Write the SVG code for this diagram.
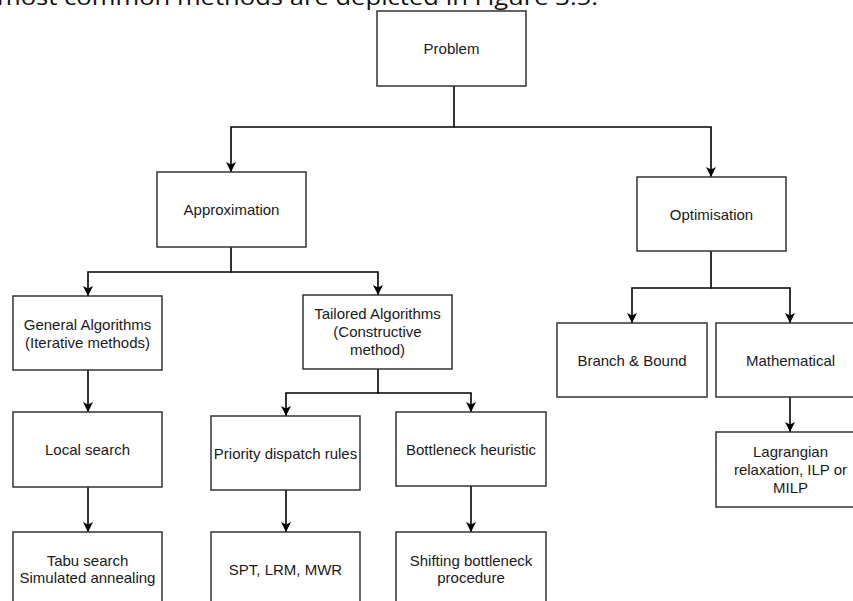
<svg xmlns="http://www.w3.org/2000/svg" width="853" height="601" viewBox="0 0 853 601">
  <defs>
    <marker id="arrow" viewBox="0 0 10 10" refX="10" refY="5" markerWidth="10" markerHeight="10" markerUnits="userSpaceOnUse" orient="auto">
      <path d="M0,0 L10,5 L0,10 L2.5,5 Z" fill="#000"/>
    </marker>
    <style>
      .box { fill: #fff; stroke: #333; stroke-width: 1.5; }
      .lbl { font-family: "Liberation Sans", Arial, sans-serif; font-size: 15px; fill: #1a1a1a; text-anchor: middle; }
      .edge { fill: none; stroke: #000; stroke-width: 1.6; marker-end: url(#arrow); }
      .caption { font-family: "Open Sans", "Noto Sans", sans-serif; font-size: 22px; fill: #111; }
    </style>
  </defs>
  <rect width="853" height="601" fill="#fff"/>

  <!-- running text above the chart, clipped by the page edge -->
  <text class="caption" x="-3" y="5" textLength="601" lengthAdjust="spacingAndGlyphs">most common methods are depicted in Figure 3.5.</text>

  <g id="connectors">
    <path class="edge" d="M454,86 V127 H231 V172"/>
    <path class="edge" d="M454,127 H711 V177"/>
    <path class="edge" d="M231,247 V272 H88 V296"/>
    <path class="edge" d="M231,272 H378 V295"/>
    <path class="edge" d="M711,251 V288 H632 V323"/>
    <path class="edge" d="M711,288 H790 V323"/>
    <path class="edge" d="M88,370 V412"/>
    <path class="edge" d="M88,487 V532"/>
    <path class="edge" d="M378,369 V393 H286 V416"/>
    <path class="edge" d="M378,393 H471 V412"/>
    <path class="edge" d="M286,490 V532"/>
    <path class="edge" d="M471,486 V532"/>
    <path class="edge" d="M790,397 V432"/>
  </g>

  <g id="problem">
    <rect class="box" x="377" y="11" width="149" height="75"/>
    <text class="lbl" x="451.5" y="54">Problem</text>
  </g>
  <g id="approximation">
    <rect class="box" x="157" y="172" width="149" height="75"/>
    <text class="lbl" x="231.5" y="215">Approximation</text>
  </g>
  <g id="optimisation">
    <rect class="box" x="637" y="177" width="149" height="74"/>
    <text class="lbl" x="711.5" y="220">Optimisation</text>
  </g>
  <g id="general-algorithms">
    <rect class="box" x="13" y="296" width="149" height="74"/>
    <text class="lbl" x="87.5" y="330">General Algorithms</text>
    <text class="lbl" x="87.5" y="348">(Iterative methods)</text>
  </g>
  <g id="tailored-algorithms">
    <rect class="box" x="303" y="295" width="149" height="74"/>
    <text class="lbl" x="377.5" y="319">Tailored Algorithms</text>
    <text class="lbl" x="377.5" y="337">(Constructive</text>
    <text class="lbl" x="377.5" y="355">method)</text>
  </g>
  <g id="branch-and-bound">
    <rect class="box" x="557" y="323" width="150" height="74"/>
    <text class="lbl" x="632" y="366">Branch &amp; Bound</text>
  </g>
  <g id="mathematical">
    <rect class="box" x="716" y="323" width="149" height="74"/>
    <text class="lbl" x="790.5" y="366">Mathematical</text>
  </g>
  <g id="local-search">
    <rect class="box" x="13" y="412" width="149" height="75"/>
    <text class="lbl" x="87.5" y="455">Local search</text>
  </g>
  <g id="priority-dispatch">
    <rect class="box" x="211" y="416" width="149" height="74"/>
    <text class="lbl" x="285.5" y="459">Priority dispatch rules</text>
  </g>
  <g id="bottleneck-heuristic">
    <rect class="box" x="396" y="412" width="150" height="74"/>
    <text class="lbl" x="471" y="455">Bottleneck heuristic</text>
  </g>
  <g id="lagrangian">
    <rect class="box" x="716" y="432" width="149" height="75"/>
    <text class="lbl" x="790.5" y="457">Lagrangian</text>
    <text class="lbl" x="790.5" y="475">relaxation, ILP or</text>
    <text class="lbl" x="790.5" y="493">MILP</text>
  </g>
  <g id="tabu-search">
    <rect class="box" x="13" y="532" width="149" height="75"/>
    <text class="lbl" x="87.5" y="566">Tabu search</text>
    <text class="lbl" x="87.5" y="583">Simulated annealing</text>
  </g>
  <g id="spt-lrm-mwr">
    <rect class="box" x="211" y="532" width="149" height="75"/>
    <text class="lbl" x="285.5" y="575">SPT, LRM, MWR</text>
  </g>
  <g id="shifting-bottleneck">
    <rect class="box" x="396" y="532" width="150" height="75"/>
    <text class="lbl" x="471" y="566">Shifting bottleneck</text>
    <text class="lbl" x="471" y="583">procedure</text>
  </g>
</svg>
